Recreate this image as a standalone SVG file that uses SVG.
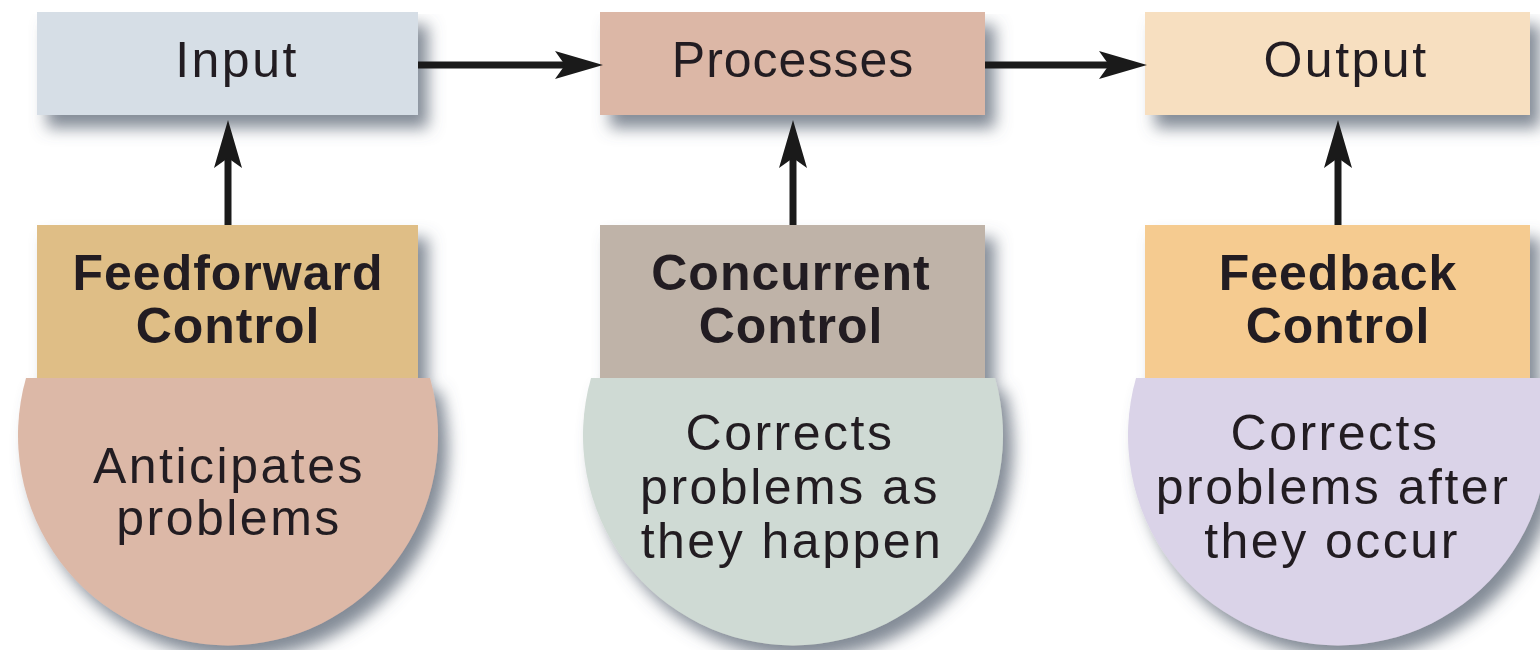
<svg xmlns="http://www.w3.org/2000/svg" width="1540" height="650" viewBox="0 0 1540 650">
  <style>
    .lbl { font-family: "Liberation Sans", Arial, sans-serif; font-size: 50px; fill: #231f20; text-anchor: middle; letter-spacing: 2.5px; }
    .ttl { font-family: "Liberation Sans", Arial, sans-serif; font-size: 50px; font-weight: bold; fill: #231f20; text-anchor: middle; letter-spacing: 1px; }
    .conn { stroke: #1a1a1a; stroke-width: 7; fill: none; marker-end: url(#head); }
  </style>
  <defs>
    <filter id="shadow" x="-10%" y="-10%" width="130%" height="150%">
      <feGaussianBlur in="SourceAlpha" stdDeviation="8"/>
      <feOffset dx="10" dy="13" result="b"/>
      <feFlood flood-color="#5a6574" flood-opacity="0.75"/>
      <feComposite in2="b" operator="in"/>
      <feMerge><feMergeNode/><feMergeNode in="SourceGraphic"/></feMerge>
    </filter>
    <marker id="head" viewBox="0 0 48 28" refX="12" refY="14" markerWidth="48" markerHeight="28" markerUnits="userSpaceOnUse" orient="auto">
      <path d="M48,14 L0,0 L10,14 L0,28 Z" fill="#1a1a1a"/>
    </marker>
  </defs>
  <rect width="1540" height="650" fill="#ffffff"/>

  <g id="input" filter="url(#shadow)">
    <rect x="37" y="12" width="381" height="103" fill="#d6dee6"/>
    <text class="lbl" x="237" y="77">Input</text>
  </g>
  <g id="processes" filter="url(#shadow)">
    <rect x="600" y="12" width="385" height="103" fill="#dcb7a6"/>
    <text class="lbl" x="793" y="77" style="letter-spacing:1px">Processes</text>
  </g>
  <g id="output" filter="url(#shadow)">
    <rect x="1145" y="12" width="385" height="103" fill="#f7dfc0"/>
    <text class="lbl" x="1346" y="77">Output</text>
  </g>

  <g id="feedforward" filter="url(#shadow)">
    <path d="M26,378 A210,210 0 1 0 430,378 Z" fill="#dcb8a7"/>
    <rect x="37" y="225" width="381" height="153" fill="#dfbe86"/>
    <text class="ttl" x="228" y="290">Feedforward</text>
    <text class="ttl" x="228" y="343">Control</text>
    <text class="lbl" x="229" y="483">Anticipates</text>
    <text class="lbl" x="229" y="535">problems</text>
  </g>
  <g id="concurrent" filter="url(#shadow)">
    <path d="M591,378 A210,210 0 1 0 995,378 Z" fill="#cfdad4"/>
    <rect x="600" y="225" width="385" height="153" fill="#bfb3a8"/>
    <text class="ttl" x="791" y="290">Concurrent</text>
    <text class="ttl" x="791" y="343">Control</text>
    <text class="lbl" x="790" y="450">Corrects</text>
    <text class="lbl" x="790" y="504">problems as</text>
    <text class="lbl" x="792" y="558">they happen</text>
  </g>
  <g id="feedback" filter="url(#shadow)">
    <path d="M1136,378 A210,210 0 1 0 1540,378 Z" fill="#dad3e8"/>
    <rect x="1145" y="225" width="385" height="153" fill="#f5cb90"/>
    <text class="ttl" x="1338" y="290">Feedback</text>
    <text class="ttl" x="1338" y="343">Control</text>
    <text class="lbl" x="1335" y="450">Corrects</text>
    <text class="lbl" x="1333" y="504">problems after</text>
    <text class="lbl" x="1332" y="558">they occur</text>
  </g>

  <g id="connectors">
    <line class="conn" x1="418" y1="65" x2="567" y2="65"/>
    <line class="conn" x1="985" y1="65" x2="1111" y2="65"/>
    <line class="conn" x1="228" y1="225" x2="228" y2="156"/>
    <line class="conn" x1="793" y1="225" x2="793" y2="156"/>
    <line class="conn" x1="1338" y1="225" x2="1338" y2="156"/>
  </g>
</svg>
